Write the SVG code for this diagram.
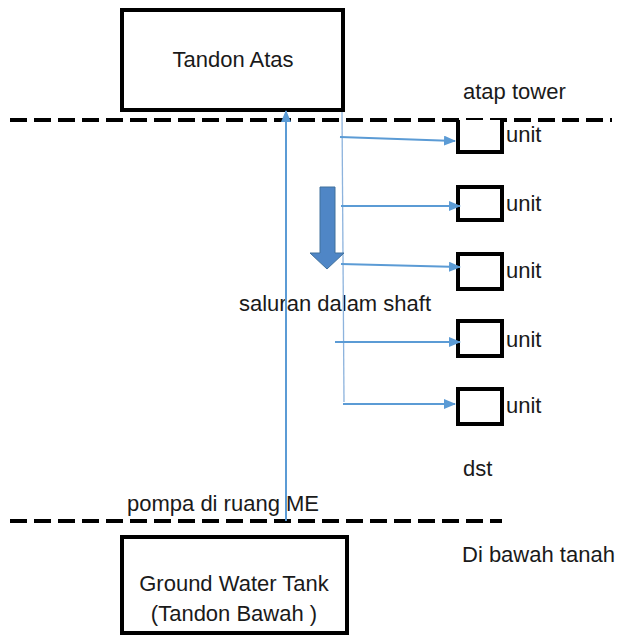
<svg xmlns="http://www.w3.org/2000/svg" width="621" height="635" viewBox="0 0 621 635">
<style>
text{font-family:"Liberation Sans",Arial,sans-serif;font-size:22px;fill:#1a1a1a}
.box{fill:#fff;stroke:#000;stroke-width:4}
.dash{stroke:#000;stroke-width:4;stroke-dasharray:17 7;fill:none}
.pipe{stroke:#5b9bd5;stroke-width:2;fill:none}
.shaft{stroke:#8db3dd;stroke-width:1.3;fill:none}
</style>
<defs>
<marker id="ah" markerWidth="12" markerHeight="10" refX="11" refY="5" orient="auto" markerUnits="userSpaceOnUse">
<path d="M0,0 L12,5 L0,10 Z" fill="#5b9bd5"/>
</marker>
</defs>
<g id="levels">
<line class="dash" x1="10" y1="120" x2="612" y2="120"/>
<line class="dash" x1="10" y1="521" x2="502" y2="521"/>
</g>
<g id="tandon-atas">
<rect class="box" x="122" y="10" width="221" height="100"/>
<text x="233" y="67" text-anchor="middle">Tandon Atas</text>
</g>
<g id="ground-tank">
<rect class="box" x="122" y="537" width="225" height="96"/>
<text x="234" y="591" text-anchor="middle">Ground Water Tank</text>
<text x="234" y="621" text-anchor="middle">(Tandon Bawah )</text>
</g>
<g id="unit1"><path d="M458,120 V152 H502 V120" fill="#fff" stroke="#000" stroke-width="4"/><text x="506" y="142">unit</text></g>
<g id="unit2"><rect class="box" x="458" y="187" width="44" height="33"/><text x="506" y="211">unit</text></g>
<g id="unit3"><rect class="box" x="458" y="254" width="44" height="35"/><text x="506" y="278">unit</text></g>
<g id="unit4"><rect class="box" x="458" y="321" width="44" height="35"/><text x="506" y="347">unit</text></g>
<g id="unit5"><rect class="box" x="458" y="389" width="44" height="35"/><text x="506" y="413">unit</text></g>
<g id="labels">
<text x="463" y="99">atap tower</text>
<text x="239" y="311">saluran dalam shaft</text>
<text x="463" y="476">dst</text>
<text x="127" y="511">pompa di ruang ME</text>
<text x="462" y="562">Di bawah tanah</text>
</g>
<g id="connectors">
<line class="pipe" x1="286" y1="521" x2="286" y2="111" marker-end="url(#ah)"/>
<line class="shaft" x1="342" y1="112" x2="344" y2="402"/>
<line class="pipe" x1="340" y1="137" x2="455" y2="141" marker-end="url(#ah)"/>
<line class="pipe" x1="341" y1="206" x2="460" y2="206" marker-end="url(#ah)"/>
<line class="pipe" x1="341" y1="264" x2="460" y2="267" marker-end="url(#ah)"/>
<line class="pipe" x1="335" y1="342" x2="460" y2="342" marker-end="url(#ah)"/>
<line class="pipe" x1="343" y1="404" x2="455" y2="404" marker-end="url(#ah)"/>
<path d="M320,187 H335 V253 H344 L327,269 L310,253 H320 Z" fill="#4f86c6" stroke="#41719c" stroke-width="1"/>
</g>
</svg>
